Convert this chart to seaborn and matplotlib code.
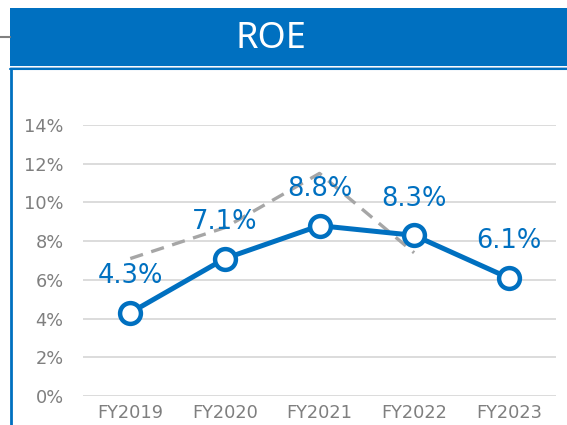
import matplotlib
matplotlib.use("Agg")
import matplotlib.pyplot as plt
from matplotlib.patches import Rectangle
from matplotlib.lines import Line2D
import seaborn as sns
import pandas as pd

# Fiscal years and ROE figures (%)
years = ["FY2019", "FY2020", "FY2021", "FY2022", "FY2023"]
roe_actual = [4.3, 7.1, 8.8, 8.3, 6.1]
roe_plan = [7.1, 8.7, 11.5, 7.4]          # dashed reference line, FY2019-FY2022
y_ticks = [0, 2, 4, 6, 8, 10, 12, 14]

BLUE = "#0070C0"
GREY_TXT = "#7F7F7F"
GRID = "#D9D9D9"
DASH = "#A6A6A6"

sns.set_style("white")
plt.rcParams["font.family"] = ["DejaVu Sans"]

W, H = 567, 425
fig = plt.figure(figsize=(W / 100, H / 100), dpi=100)

def fx(px):
    return px / W

def fy(py):
    return 1 - py / H

# Header bar and panel frame
fig.patches.append(Rectangle((fx(10), fy(66)), fx(W), 58 / H, transform=fig.transFigure,
                             facecolor=BLUE, edgecolor="none", zorder=0))
fig.lines.append(Line2D([fx(10), 1], [fy(67), fy(67)], transform=fig.transFigure,
                        color="#9DC3E6", lw=0.8))
fig.lines.append(Line2D([fx(10), 1], [fy(69), fy(69)], transform=fig.transFigure,
                        color=BLUE, lw=1.5))
fig.lines.append(Line2D([fx(11), fx(11)], [fy(69), 0], transform=fig.transFigure,
                        color=BLUE, lw=2))
fig.lines.append(Line2D([0, fx(10)], [fy(37), fy(37)], transform=fig.transFigure,
                        color="#808080", lw=1.5))
fig.text(fx(271), fy(39), "ROE", color="white", fontsize=26, ha="center", va="center",
         family=["Noto Sans", "DejaVu Sans"])

ax = fig.add_axes([fx(83), fy(396), fx(556 - 83), (396 - 125) / H])

df_actual = pd.DataFrame({"pos": range(len(years)), "roe": roe_actual})
df_plan = pd.DataFrame({"pos": range(len(roe_plan)), "roe": roe_plan})

sns.lineplot(data=df_plan, x="pos", y="roe", ax=ax, color=DASH, lw=2.4,
             dashes=False, zorder=2)
ax.lines[-1].set_dashes([4, 2.6])
sns.lineplot(data=df_actual, x="pos", y="roe", ax=ax, color=BLUE, lw=3.6,
             marker="o", markersize=15, markerfacecolor="white",
             markeredgecolor=BLUE, markeredgewidth=3.2, zorder=3)
for ln in ax.lines:
    ln.set_clip_on(False)

for i, v in enumerate(roe_actual):
    ax.annotate(f"{v:.1f}%", (i, v), xytext=(0, 26.5), textcoords="offset points",
                ha="center", va="center", color=BLUE, fontsize=18.5, zorder=4)

ax.set_xlim(-0.5, len(years) - 0.5)
ax.set_ylim(0, 14)
ax.set_xticks(range(len(years)))
ax.set_xticklabels(years)
ax.set_yticks(y_ticks)
ax.set_yticklabels([f"{t}%" for t in y_ticks])
ax.tick_params(axis="both", length=0, labelcolor=GREY_TXT, labelsize=12.8)
ax.tick_params(axis="y", pad=14)
ax.tick_params(axis="x", pad=6)
ax.set_xlabel("")
ax.set_ylabel("")
ax.grid(axis="y", color=GRID, lw=1.3)
ax.set_axisbelow(True)
for s in ax.spines.values():
    s.set_visible(False)

fig.savefig("out.png", dpi=100)
